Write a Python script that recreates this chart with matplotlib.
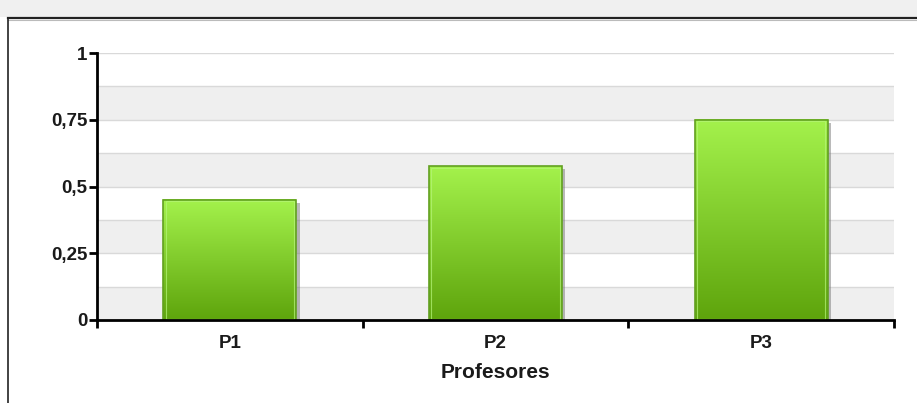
import numpy as np
import matplotlib.pyplot as plt
from matplotlib.patches import Rectangle
from matplotlib.lines import Line2D
from matplotlib.colors import LinearSegmentedColormap
import matplotlib.patheffects as pe

plt.rcParams['font.family'] = ['Liberation Sans', 'DejaVu Sans']

# datos
profesores = ['P1', 'P2', 'P3']
valores = [0.45, 0.575, 0.75]
yticks = [0, 0.25, 0.5, 0.75, 1]
ytick_labels = ['0', '0,25', '0,5', '0,75', '1']

fig = plt.figure(figsize=(9.17, 4.03), dpi=100)
fig.patch.set_facecolor('white')

# franja superior gris y borde del panel
fig.add_artist(Rectangle((0, 1 - 17 / 403), 1, 17 / 403, transform=fig.transFigure,
                         facecolor='#f0f0f0', edgecolor='none', zorder=0))
fig.add_artist(Line2D([8 / 917, 1], [1 - 18 / 403, 1 - 18 / 403], transform=fig.transFigure,
                      color='#222222', lw=1.6))
fig.add_artist(Line2D([8 / 917, 1], [1 - 20 / 403, 1 - 20 / 403], transform=fig.transFigure,
                      color='#bbbbbb', lw=0.8))
fig.add_artist(Line2D([8 / 917, 8 / 917], [0, 1 - 18 / 403], transform=fig.transFigure,
                      color='#222222', lw=1.2))

ax = fig.add_axes([97 / 917, 1 - 320 / 403, (894 - 97) / 917, (320 - 53) / 403])
ax.set_xlim(0, 3)
ax.set_ylim(0, 1)

# bandas alternas y líneas de rejilla
for k in range(8):
    y0 = k * 0.125
    if k % 2 == 0:
        ax.axhspan(y0, y0 + 0.125, color='#efefef', zorder=0, lw=0)
for k in range(1, 9):
    ax.axhline(k * 0.125, color='#d9d9d9', lw=1, zorder=1)

# barras con degradado
cmap = LinearSegmentedColormap.from_list('verde', ['#5ea40c', '#a4f24c'])
grad = np.linspace(0, 1, 256).reshape(-1, 1)
x = np.arange(len(profesores)) + 0.5
ancho = 0.5
barras = ax.bar(x, valores, width=ancho, color='#5ea40c', edgecolor='none', zorder=2)
for b, v in zip(barras, valores):
    b.set_path_effects([pe.SimplePatchShadow(offset=(2.5, -2), shadow_rgbFace='#777777', alpha=0.5),
                        pe.Normal()])
    x0 = b.get_x()
    ax.imshow(grad, extent=(x0, x0 + ancho, 0, v), origin='lower', cmap=cmap,
              aspect='auto', zorder=3, interpolation='bicubic')
    ax.add_patch(Rectangle((x0, 0), ancho, v, facecolor='none', edgecolor='#62a020',
                           lw=1.2, zorder=4))
    ax.add_patch(Rectangle((x0 + 0.008, 0.004), ancho - 0.016, v - 0.008, facecolor='none',
                           edgecolor='#b6f57a', lw=0.8, alpha=0.7, zorder=4))

ax.set_xlim(0, 3)
ax.set_ylim(0, 1)

for s in ['top', 'right']:
    ax.spines[s].set_visible(False)
for s in ['left', 'bottom']:
    ax.spines[s].set_linewidth(2)
    ax.spines[s].set_color('black')
    ax.spines[s].set_zorder(5)

ax.set_yticks(yticks)
ax.set_yticklabels(ytick_labels, fontsize=13.5, fontweight='bold', color='#1a1a1a')
ax.set_xticks([0, 1, 2, 3])
ax.set_xticklabels([])
ax.set_xticks(x, minor=True)
ax.set_xticklabels(profesores, minor=True, fontsize=13.5, fontweight='bold', color='#1a1a1a')
ax.tick_params(axis='y', length=6, width=2, pad=1)
ax.tick_params(axis='x', which='major', length=6, width=2)
ax.tick_params(axis='x', which='minor', length=0, pad=11)
ax.set_xlabel('Profesores', fontsize=15, fontweight='bold', color='#1a1a1a', labelpad=8)
ax.set_facecolor('white')

fig.savefig('out.png', dpi=100)
